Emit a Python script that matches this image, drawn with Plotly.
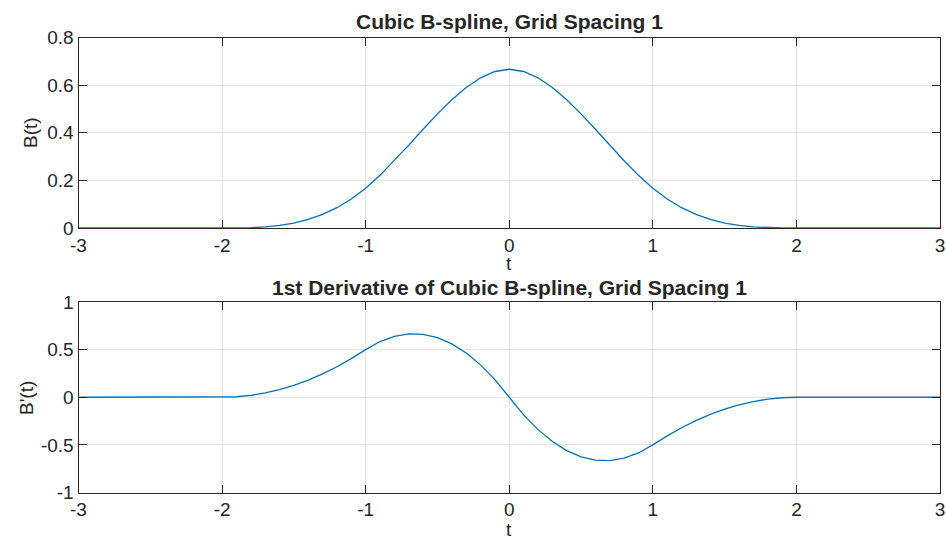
import plotly.graph_objects as go

t = [-3.0, -2.9, -2.8, -2.7, -2.6, -2.5, -2.4, -2.3, -2.2, -2.1,
     -2.0, -1.9, -1.8, -1.7, -1.6, -1.5, -1.4, -1.3, -1.2, -1.1,
     -1.0, -0.9, -0.8, -0.7, -0.6, -0.5, -0.4, -0.3, -0.2, -0.1,
     0.0, 0.1, 0.2, 0.3, 0.4, 0.5, 0.6, 0.7, 0.8, 0.9,
     1.0, 1.1, 1.2, 1.3, 1.4, 1.5, 1.6, 1.7, 1.8, 1.9,
     2.0, 2.1, 2.2, 2.3, 2.4, 2.5, 2.6, 2.7, 2.8, 2.9, 3.0]

b = [0, 0, 0, 0, 0, 0, 0, 0, 0, 0,
     0, 0.0002, 0.0013, 0.0045, 0.0107, 0.0208, 0.036, 0.0572, 0.0853, 0.1215,
     0.1667, 0.2212, 0.2827, 0.3482, 0.4147, 0.4792, 0.5387, 0.5902, 0.6307, 0.6572,
     0.6667, 0.6572, 0.6307, 0.5902, 0.5387, 0.4792, 0.4147, 0.3482, 0.2827, 0.2212,
     0.1667, 0.1215, 0.0853, 0.0572, 0.036, 0.0208, 0.0107, 0.0045, 0.0013, 0.0002,
     0, 0, 0, 0, 0, 0, 0, 0, 0, 0, 0]

db = [0, 0, 0, 0, 0, 0, 0, 0, 0, 0,
      0, 0.005, 0.02, 0.045, 0.08, 0.125, 0.18, 0.245, 0.32, 0.405,
      0.5, 0.585, 0.64, 0.665, 0.66, 0.625, 0.56, 0.465, 0.34, 0.185,
      0, -0.185, -0.34, -0.465, -0.56, -0.625, -0.66, -0.665, -0.64, -0.585,
      -0.5, -0.405, -0.32, -0.245, -0.18, -0.125, -0.08, -0.045, -0.02, -0.005,
      0, 0, 0, 0, 0, 0, 0, 0, 0, 0, 0]

xticks = [-3, -2, -1, 0, 1, 2, 3]
xtext = ["-3", "-2", "-1", "0", "1", "2", "3"]
yticks_top = [0, 0.2, 0.4, 0.6, 0.8]
ytext_top = ["0", "0.2", "0.4", "0.6", "0.8"]
yticks_bot = [-1, -0.5, 0, 0.5, 1]
ytext_bot = ["-1", "-0.5", "0", "0.5", "1"]

W, H = 946, 537
line_color = "#0072BD"
axis_color = "#262626"
grid_color = "#e3e3e3"
FONT = "Liberation Sans, Arial, sans-serif"
TICK = 19

fig = go.Figure()
fig.add_trace(go.Scatter(x=t, y=b, mode="lines", line=dict(color=line_color, width=1.3),
                         xaxis="x", yaxis="y", showlegend=False))
fig.add_trace(go.Scatter(x=t, y=db, mode="lines", line=dict(color=line_color, width=1.3),
                         xaxis="x2", yaxis="y2", showlegend=False))

def px_x(p):
    return p / W

def px_y(p):
    return 1 - p / H

axis_common = dict(showline=True, linecolor=axis_color, linewidth=1, mirror="ticks",
                   ticks="inside", ticklen=8, tickcolor=axis_color, tickwidth=1,
                   showgrid=True, gridcolor=grid_color, gridwidth=1, zeroline=False,
                   automargin=False,
                   tickfont=dict(family=FONT, size=TICK, color=axis_color))

fig.update_layout(
    width=W, height=H, margin=dict(l=0, r=0, t=0, b=0, pad=0),
    paper_bgcolor="white", plot_bgcolor="white",
    xaxis=dict(domain=[px_x(78.5), px_x(940)], range=[-3, 3], tickvals=xticks,
               ticktext=xtext, anchor="y", **axis_common),
    yaxis=dict(domain=[px_y(228), px_y(37.5)], range=[0, 0.8], tickvals=yticks_top,
               ticktext=ytext_top, anchor="x", **axis_common),
    xaxis2=dict(domain=[px_x(78.5), px_x(940)], range=[-3, 3], tickvals=xticks,
                ticktext=xtext, anchor="y2", **axis_common),
    yaxis2=dict(domain=[px_y(492.5), px_y(302)], range=[-1, 1], tickvals=yticks_bot,
                ticktext=ytext_bot, anchor="x2", **axis_common),
)

ann = [
    dict(text="<b>Cubic B-spline, Grid Spacing 1</b>", x=px_x(509), y=px_y(21),
         size=21),
    dict(text="<b>1st Derivative of Cubic B-spline, Grid Spacing 1</b>", x=px_x(509),
         y=px_y(287), size=21),
    dict(text="t", x=px_x(509), y=px_y(264), size=TICK),
    dict(text="t", x=px_x(509), y=px_y(529), size=TICK),
]
for a in ann:
    fig.add_annotation(text=a["text"], x=a["x"], y=a["y"], xref="paper", yref="paper",
                       showarrow=False, xanchor="center", yanchor="middle",
                       font=dict(family=FONT, size=a["size"], color=axis_color))

fig.add_annotation(text="B(t)", x=px_x(30), y=px_y(133), xref="paper", yref="paper",
                   showarrow=False, textangle=-90, xanchor="center", yanchor="middle",
                   font=dict(family=FONT, size=TICK, color=axis_color))
fig.add_annotation(text="B'(t)", x=px_x(26), y=px_y(398), xref="paper", yref="paper",
                   showarrow=False, textangle=-90, xanchor="center", yanchor="middle",
                   font=dict(family=FONT, size=TICK, color=axis_color))

fig.write_html("out.html")
